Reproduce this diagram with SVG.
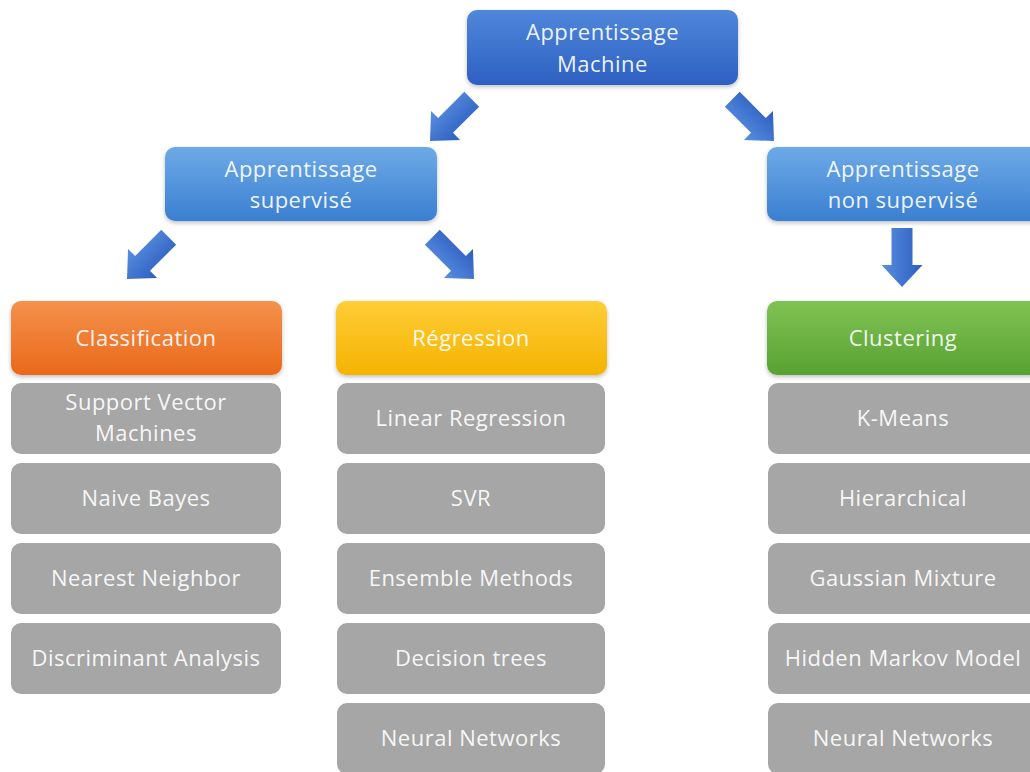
<svg xmlns="http://www.w3.org/2000/svg" width="1030" height="772" viewBox="0 0 1030 772">
<defs>
<linearGradient id="gTop" x1="0" y1="0" x2="0" y2="1"><stop offset="0" stop-color="#5087db"/><stop offset="1" stop-color="#2d60c2"/></linearGradient>
<linearGradient id="gSub" x1="0" y1="0" x2="0" y2="1"><stop offset="0" stop-color="#6eaae7"/><stop offset="1" stop-color="#3a7fd1"/></linearGradient>
<linearGradient id="gOr" x1="0" y1="0" x2="0" y2="1"><stop offset="0" stop-color="#f5914c"/><stop offset="1" stop-color="#e9691a"/></linearGradient>
<linearGradient id="gYe" x1="0" y1="0" x2="0" y2="1"><stop offset="0" stop-color="#ffcd38"/><stop offset="1" stop-color="#f4b300"/></linearGradient>
<linearGradient id="gGr" x1="0" y1="0" x2="0" y2="1"><stop offset="0" stop-color="#80c354"/><stop offset="1" stop-color="#58a132"/></linearGradient>
<linearGradient id="gArr" x1="0" y1="0" x2="1" y2="0"><stop offset="0" stop-color="#5a8fe0"/><stop offset="1" stop-color="#2c5dbf"/></linearGradient>
<filter id="sh" x="-5%" y="-10%" width="110%" height="130%"><feDropShadow dx="0" dy="2" stdDeviation="2" flood-color="#000" flood-opacity="0.25"/></filter>
<path id="arr" d="M-10.5,-59 L10.5,-59 L10.5,-22 L20.5,-22 L0,0 L-20.5,-22 L-10.5,-22 Z"/>
</defs>
<style>
text{font-family:"Open Sans","Noto Sans","Liberation Sans",sans-serif;font-size:22px;letter-spacing:0.5px;fill:#ffffff;fill-opacity:0.93;text-anchor:middle}
.gray{fill:#a6a6a6}
.hdr{filter:url(#sh)}
</style>
<rect width="1030" height="772" fill="#ffffff"/>
<g id="connectors" fill="url(#gArr)">
<use href="#arr" transform="translate(430,141) rotate(45)"/>
<use href="#arr" transform="translate(774,141) rotate(-45)"/>
<use href="#arr" transform="translate(127,279) rotate(45)"/>
<use href="#arr" transform="translate(474,279) rotate(-45)"/>
<use href="#arr" transform="translate(902,287)"/>
</g>
<g id="n-root"><rect class="hdr" x="467" y="10" width="271" height="75" rx="10" fill="url(#gTop)"/><text x="602.5" y="40">Apprentissage</text><text x="602.5" y="72">Machine</text></g>
<g id="n-sup"><rect class="hdr" x="165" y="147" width="272" height="74" rx="10" fill="url(#gSub)"/><text x="301" y="177">Apprentissage</text><text x="301" y="208">supervisé</text></g>
<g id="n-unsup"><rect class="hdr" x="767" y="147" width="274" height="74" rx="10" fill="url(#gSub)"/><text x="903" y="177">Apprentissage</text><text x="903" y="208">non supervisé</text></g>
<g id="n-class"><rect class="hdr" x="11" y="301" width="271" height="74" rx="10" fill="url(#gOr)"/><text x="146" y="346">Classification</text></g>
<g id="n-reg"><rect class="hdr" x="336" y="301" width="271" height="74" rx="10" fill="url(#gYe)"/><text x="471" y="346">Régression</text></g>
<g id="n-clus"><rect class="hdr" x="767" y="301" width="274" height="74" rx="10" fill="url(#gGr)"/><text x="903" y="346">Clustering</text></g>
<g id="n-svm"><rect class="gray" x="11" y="383" width="270" height="71" rx="10"/><text x="146" y="410">Support Vector</text><text x="146" y="441">Machines</text></g>
<g id="n-nb"><rect class="gray" x="11" y="463" width="270" height="71" rx="10"/><text x="146" y="506">Naive Bayes</text></g>
<g id="n-nn1"><rect class="gray" x="11" y="543" width="270" height="71" rx="10"/><text x="146" y="586">Nearest Neighbor</text></g>
<g id="n-da"><rect class="gray" x="11" y="623" width="270" height="71" rx="10"/><text x="146" y="666">Discriminant Analysis</text></g>
<g id="n-lr"><rect class="gray" x="337" y="383" width="268" height="71" rx="10"/><text x="471" y="426">Linear Regression</text></g>
<g id="n-svr"><rect class="gray" x="337" y="463" width="268" height="71" rx="10"/><text x="471" y="506">SVR</text></g>
<g id="n-ens"><rect class="gray" x="337" y="543" width="268" height="71" rx="10"/><text x="471" y="586">Ensemble Methods</text></g>
<g id="n-dt"><rect class="gray" x="337" y="623" width="268" height="71" rx="10"/><text x="471" y="666">Decision trees</text></g>
<g id="n-neur1"><rect class="gray" x="337" y="703" width="268" height="71" rx="10"/><text x="471" y="746">Neural Networks</text></g>
<g id="n-km"><rect class="gray" x="768" y="383" width="272" height="71" rx="10"/><text x="903" y="426">K-Means</text></g>
<g id="n-hier"><rect class="gray" x="768" y="463" width="272" height="71" rx="10"/><text x="903" y="506">Hierarchical</text></g>
<g id="n-gm"><rect class="gray" x="768" y="543" width="272" height="71" rx="10"/><text x="903" y="586">Gaussian Mixture</text></g>
<g id="n-hmm"><rect class="gray" x="768" y="623" width="272" height="71" rx="10"/><text x="903" y="666">Hidden Markov Model</text></g>
<g id="n-neur2"><rect class="gray" x="768" y="703" width="272" height="71" rx="10"/><text x="903" y="746">Neural Networks</text></g>
</svg>
